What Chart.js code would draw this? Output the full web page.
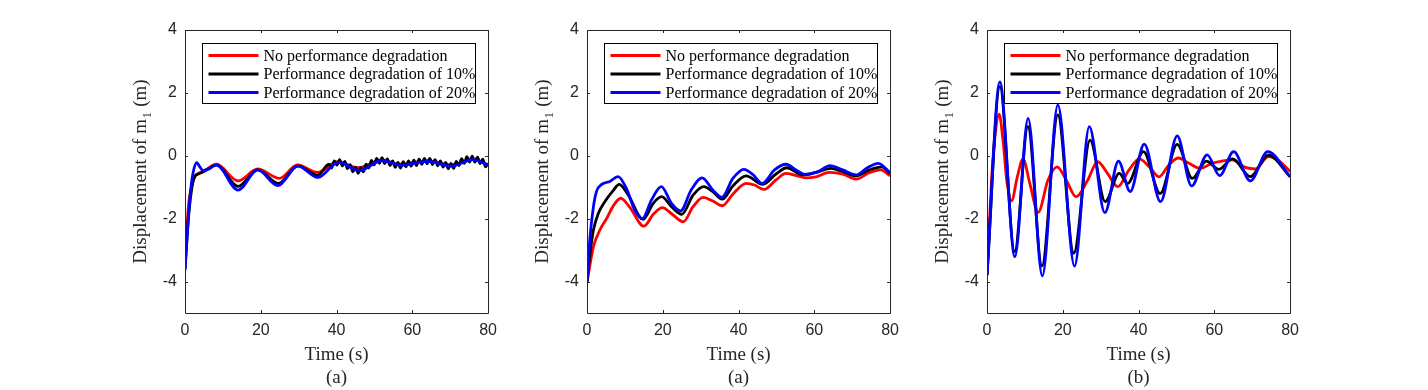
<!DOCTYPE html>
<html>
<head>
<meta charset="utf-8">
<script src="https://cdn.jsdelivr.net/npm/chart.js@4"></script>
<style>
  body { margin: 0; background: #fff; }
  canvas { position: absolute; top: 0; }
</style>
</head>
<body>
<canvas id="c1" width="380" height="390" style="left:125px"></canvas>
<canvas id="c2" width="380" height="390" style="left:527px"></canvas>
<canvas id="c3" width="380" height="390" style="left:927px"></canvas>
<script>
// axis ticks
const xTicks = [0, 20, 40, 60, 80];
const yTicks = [-4, -2, 0, 2, 4];
const seriesNames = ['No performance degradation', 'Performance degradation of 10%', 'Performance degradation of 20%'];
const captions = ['(a)', '(a)', '(b)'];

// panel 1
const redA_t = [0, 0.9, 1.75, 2.6, 3.9, 5.7, 8.3, 14, 19.2, 24.9, 29.7, 35, 40.2, 45.8, 52, 56.4, 63.9, 70.4, 76.1, 80];
const redA_y = [-3.43, -1.6, -0.98, -0.66, -0.54, -0.43, -0.27, -0.8, -0.42, -0.72, -0.29, -0.53, -0.19, -0.38, -0.13, -0.27, -0.16, -0.29, -0.11, -0.29];
// black is jittery after ~38 s
const blackA_t = [0, 0.9, 1.6, 2.4, 3.5, 5, 8.3, 14, 19.2, 24.7, 29.8, 35,
  38, 38.7, 39.4, 40.1, 40.8, 41.5, 42.2, 42.9, 43.6, 44.3, 45, 45.7, 46.4, 47.1, 47.8, 48.5, 49.2, 49.9, 50.6, 51.3,
  52, 52.7, 53.4, 54.1, 54.8, 55.5, 56.2, 56.9, 57.6, 58.3, 59, 59.7, 60.4, 61.1, 61.8, 62.5, 63.2, 63.9, 64.6, 65.3,
  66, 66.7, 67.4, 68.1, 68.8, 69.5, 70.2, 70.9, 71.6, 72.3, 73, 73.7, 74.4, 75.1, 75.8, 76.5, 77.2, 77.9, 78.6, 79.3, 80];
const blackA_y = [-3.6, -2.0, -1.2, -0.7, -0.58, -0.5, -0.3, -0.97, -0.45, -0.88, -0.32, -0.62,
  -0.27, -0.39, -0.16, -0.30, -0.12, -0.32, -0.18, -0.41, -0.28, -0.51, -0.36, -0.56, -0.37, -0.51, -0.27, -0.39, -0.15, -0.29, -0.08, -0.24,
  -0.06, -0.25, -0.10, -0.31, -0.16, -0.37, -0.21, -0.39, -0.19, -0.35, -0.16, -0.33, -0.14, -0.31, -0.11, -0.27, -0.08, -0.25, -0.08, -0.28,
  -0.12, -0.32, -0.16, -0.36, -0.21, -0.41, -0.24, -0.40, -0.18, -0.31, -0.09, -0.24, -0.03, -0.20, -0.01, -0.20, -0.04, -0.25, -0.11, -0.35, -0.24];
const blueA_t = [0, 0.9, 1.6, 2.2, 3.1, 3.9, 4.8, 6.1, 8.3, 14, 19.2, 24.5, 29.8, 35, 40.5, 46, 52, 57, 64, 70.4, 76, 80];
const blueA_y = [-3.64, -1.94, -0.98, -0.5, -0.22, -0.35, -0.47, -0.43, -0.29, -1.09, -0.45, -0.95, -0.33, -0.69, -0.21, -0.47, -0.15, -0.3, -0.18, -0.33, -0.12, -0.3];

// panel 2
const redB_t = [0, 1.7, 3.4, 5.2, 6.9, 8.9, 11.3, 15, 17.5, 19.9, 22.5, 25.4, 28, 30.6, 33.2, 35.7, 38.5, 42, 44.2, 46.7, 49.9, 52.5, 55.2, 57.8, 60.4, 64, 67.5, 71.1, 74.5, 77.5, 80];
const redB_y = [-4.03, -2.89, -2.36, -1.99, -1.6, -1.35, -1.64, -2.24, -1.86, -1.65, -1.86, -2.1, -1.62, -1.32, -1.44, -1.59, -1.22, -0.88, -0.93, -1.07, -0.77, -0.56, -0.63, -0.7, -0.67, -0.53, -0.58, -0.74, -0.54, -0.45, -0.64];
const blackB_t = [0, 0.8, 1.7, 3, 4.7, 6.9, 8.5, 10.9, 14.8, 17.5, 19.7, 22.3, 25, 28, 30.8, 33.2, 35.7, 38.5, 42, 46.4, 49.9, 52.7, 57, 60.4, 64.4, 67.5, 71.1, 74.5, 77.8, 80];
const blackB_y = [-4.0, -3.1, -2.36, -1.83, -1.46, -1.11, -0.91, -1.25, -2.02, -1.51, -1.3, -1.62, -1.86, -1.25, -0.98, -1.14, -1.38, -0.96, -0.64, -0.91, -0.58, -0.38, -0.61, -0.53, -0.4, -0.5, -0.64, -0.45, -0.35, -0.56];
const blueB_t = [0, 0.8, 1.7, 2.5, 3.9, 6, 8.2, 10.4, 12.6, 14.6, 17, 19.6, 22.3, 24.7, 27.5, 30.4, 33.2, 35.6, 38.5, 41.4, 43.8, 46.2, 49.5, 52.5, 55.2, 57.4, 60.9, 64.1, 67.5, 71, 74, 76.9, 80];
const blueB_y = [-4.0, -2.58, -1.62, -1.14, -0.91, -0.82, -0.66, -1.04, -1.73, -2.0, -1.41, -0.98, -1.51, -1.75, -1.09, -0.7, -1.09, -1.32, -0.72, -0.43, -0.6, -0.88, -0.45, -0.27, -0.45, -0.59, -0.51, -0.31, -0.45, -0.61, -0.38, -0.24, -0.54];

// panel 3
const redC_t = [0, 0.35, 1.2, 2.1, 3.2, 4.3, 5.2, 6.5, 8, 9.5, 11.3, 13.5, 16.1, 18.5, 20.9, 23.5, 26.6, 29.2, 31.8, 34.5, 37.5, 40.2, 42.8, 45.4, 48, 50.5, 53.3, 56.3, 59.4, 62, 64.7, 68.2, 70.8, 74.3, 76.9, 80];
const redC_y = [-3.8, -2.9, -0.77, 0.61, 1.32, 0.4, -0.77, -1.43, -0.67, -0.1, -0.88, -1.8, -0.77, -0.35, -0.77, -1.3, -0.77, -0.19, -0.56, -0.98, -0.45, -0.1, -0.35, -0.67, -0.29, -0.07, -0.24, -0.4, -0.24, -0.17, -0.13, -0.37, -0.42, -0.03, -0.15, -0.5];
const blackC_t = [0, 3.4, 7.3, 10.8, 14.5, 18.7, 22.9, 27.2, 31.2, 34.9, 37.1, 41.3, 45.7, 50.2, 54.2, 57.9, 61.2, 64.8, 69.5, 74.3, 80];
const blackC_y = [-3.8, 2.2, -3.05, 0.93, -3.5, 1.3, -3.1, 0.5, -1.46, -0.56, -0.88, 0.13, -1.2, 0.36, -0.72, -0.17, -0.43, -0.1, -0.66, 0.02, -0.67];
const blueC_t = [0, 3.4, 7.35, 10.85, 14.6, 18.7, 23.1, 27, 31.1, 34.7, 37.8, 41.5, 45.8, 50.2, 54, 58.1, 61.4, 65.1, 69.5, 74.1, 80];
const blueC_y = [-3.8, 2.35, -3.21, 1.19, -3.82, 1.62, -3.51, 0.93, -1.81, -0.17, -1.14, 0.37, -1.46, 0.63, -0.96, 0.03, -0.63, 0.13, -0.8, 0.13, -0.66];

Chart.defaults.font.family = 'Liberation Sans';
Chart.defaults.color = '#262626';

const axisColor = '#262626';
const serif = 'Liberation Serif';
const lw = 2.8;

function pts(t, y) {
  return t.map((v, i) => ({ x: v, y: y[i] }));
}

function line(label, color, t, y, order) {
  return {
    label: label,
    data: pts(t, y),
    borderColor: color,
    backgroundColor: color,
    borderWidth: lw,
    pointRadius: 0,
    cubicInterpolationMode: 'monotone',
    fill: false,
    order: order
  };
}

const framePlugin = {
  id: 'frame',
  afterDatasetsDraw(chart, args, opts) {
    const ctx = chart.ctx;
    const a = chart.chartArea;
    const xs = chart.scales.x, ys = chart.scales.y;
    ctx.save();

    // box + inward ticks
    ctx.strokeStyle = axisColor;
    ctx.lineWidth = 1;
    ctx.beginPath();
    ctx.rect(Math.round(a.left) + 0.5, Math.round(a.top) + 0.5, Math.round(a.right - a.left), Math.round(a.bottom - a.top));
    const tl = 3;
    xTicks.forEach(v => {
      const px = Math.round(xs.getPixelForValue(v)) + 0.5;
      ctx.moveTo(px, a.bottom); ctx.lineTo(px, a.bottom - tl);
      ctx.moveTo(px, a.top); ctx.lineTo(px, a.top + tl);
    });
    yTicks.forEach(v => {
      const py = Math.round(ys.getPixelForValue(v)) + 0.5;
      ctx.moveTo(a.left, py); ctx.lineTo(a.left + tl, py);
      ctx.moveTo(a.right, py); ctx.lineTo(a.right - tl, py);
    });
    ctx.stroke();

    // legend inside the axes, top right
    const bw = 273, bh = 60;
    const bx = Math.round(a.right - 13 - bw) + 0.5, by = Math.round(a.top + 13) + 0.5;
    ctx.fillStyle = '#fff';
    ctx.fillRect(bx, by, bw, bh);
    ctx.strokeStyle = '#000';
    ctx.strokeRect(bx, by, bw, bh);
    const items = chart.data.datasets;
    ctx.font = '16px "' + serif + '"';
    ctx.textBaseline = 'middle';
    ctx.textAlign = 'left';
    items.forEach((ds, i) => {
      const ry = by + 12 + i * 18.5;
      ctx.strokeStyle = ds.borderColor;
      ctx.lineWidth = lw;
      ctx.beginPath();
      ctx.moveTo(bx + 6, ry); ctx.lineTo(bx + 56, ry);
      ctx.stroke();
      ctx.fillStyle = '#000';
      ctx.fillText(ds.label, bx + 61, ry + 1);
    });

    // axis titles
    ctx.fillStyle = axisColor;
    ctx.textAlign = 'center';
    ctx.textBaseline = 'middle';
    ctx.font = '19px "' + serif + '"';
    const cx = (a.left + a.right) / 2;
    ctx.fillText('Time (s)', cx, 355);
    ctx.fillText(opts.caption, cx, 378);

    // y title with subscript
    const main1 = 'Displacement of m', sub = '1', main2 = ' (m)';
    const big = '19px "' + serif + '"', small = '13px "' + serif + '"';
    ctx.font = big;
    const w1 = ctx.measureText(main1).width, w3 = ctx.measureText(main2).width;
    ctx.font = small;
    const w2 = ctx.measureText(sub).width + 1;
    const total = w1 + w2 + w3;
    ctx.translate(a.left - 39, (a.top + a.bottom) / 2);
    ctx.rotate(-Math.PI / 2);
    ctx.textAlign = 'left';
    ctx.textBaseline = 'alphabetic';
    let x0 = -total / 2;
    ctx.font = big;
    ctx.fillText(main1, x0, 0);
    ctx.font = small;
    ctx.fillText(sub, x0 + w1 + 0.5, 5);
    ctx.font = big;
    ctx.fillText(main2, x0 + w1 + w2, 0);
    ctx.restore();
  }
};

function makePanel(id, red, black, blue, caption) {
  return new Chart(document.getElementById(id), {
    type: 'line',
    data: {
      datasets: [
        line(seriesNames[0], '#ff0000', red[0], red[1], 2),
        line(seriesNames[1], '#000000', black[0], black[1], 1),
        line(seriesNames[2], '#0000ff', blue[0], blue[1], 0)
      ]
    },
    options: {
      responsive: false,
      animation: false,
      layout: { padding: { top: 30, right: 15, left: 0, bottom: 0 } },
      plugins: {
        legend: { display: false },
        tooltip: { enabled: false },
        frame: { caption: caption }
      },
      scales: {
        x: {
          type: 'linear', min: 0, max: 80,
          afterBuildTicks: s => { s.ticks = xTicks.map(v => ({ value: v })); },
          afterFit: s => { s.height = 77; },
          grid: { display: false, drawTicks: false },
          border: { display: false },
          ticks: { font: { size: 16 }, padding: 8, maxRotation: 0 }
        },
        y: {
          type: 'linear', min: -5, max: 4,
          afterBuildTicks: s => { s.ticks = yTicks.map(v => ({ value: v })); },
          afterFit: s => { s.width = 60; },
          grid: { display: false, drawTicks: false },
          border: { display: false },
          ticks: { font: { size: 16 }, padding: 8 }
        }
      }
    },
    plugins: [framePlugin]
  });
}

makePanel('c1', [redA_t, redA_y], [blackA_t, blackA_y], [blueA_t, blueA_y], captions[0]);
makePanel('c2', [redB_t, redB_y], [blackB_t, blackB_y], [blueB_t, blueB_y], captions[1]);
makePanel('c3', [redC_t, redC_y], [blackC_t, blackC_y], [blueC_t, blueC_y], captions[2]);
</script>
</body>
</html>
